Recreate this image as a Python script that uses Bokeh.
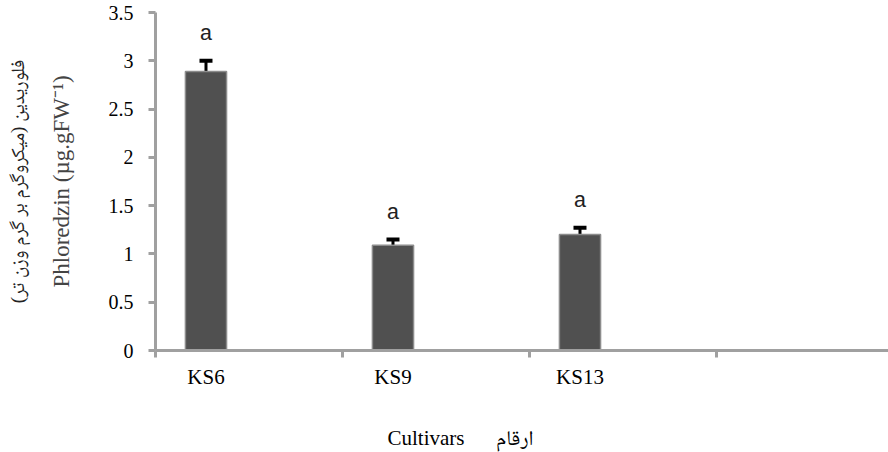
from bokeh.plotting import figure
from bokeh.models import (Range1d, FixedTicker, CustomJSTickFormatter, Whisker, TeeHead,
                          ColumnDataSource, LinearAxis, Title)
from bokeh.core.properties import value
from bokeh.embed import file_html
from bokeh.resources import INLINE

# ---- data ----
cultivars = ["KS6", "KS9", "KS13"]
phlorizin = [2.89, 1.09, 1.20]
errors = [0.11, 0.06, 0.07]
letters = ["a", "a", "a"]
y_ticks = [0, 0.5, 1, 1.5, 2, 2.5, 3, 3.5]
y_title_en = "Phloredzin (µg.gFW⁻¹)"
y_title_fa = "فلوریدین (میکروگرم بر گرم وزن تر)"
x_title = "Cultivars\u2003\u2002ارقام"

SERIF = "'Liberation Serif', 'Times New Roman', 'Noto Naskh Arabic', 'Noto Sans Arabic', serif"
AXIS_GRAY = "#a0a0a0"
OFFSET = 0.27          # bars sit left of the category centre
SLOT_PX = 187.0        # pixel width of one category slot

xs = list(range(len(cultivars)))
lower = [v - e for v, e in zip(phlorizin, errors)]
upper = [v + e for v, e in zip(phlorizin, errors)]
label_y = [u + 0.27 for u in upper]
boundaries = [i - OFFSET for i in range(len(cultivars) + 1)]

W, H, LEFT = 888, 452, 155
src = ColumnDataSource(dict(x=xs, top=phlorizin, lower=lower, upper=upper,
                            ly=label_y, letter=letters))

p = figure(width=W, height=H, output_backend="svg", toolbar_location=None,
           x_range=Range1d(-OFFSET, -OFFSET + (W - LEFT) / SLOT_PX), y_range=Range1d(0, 3.5),
           min_border_left=LEFT, min_border_right=0, min_border_top=12, min_border_bottom=101)
p.outline_line_color = None
p.xgrid.visible = False
p.ygrid.visible = False
p.background_fill_color = "white"

p.vbar(x="x", top="top", bottom=0, width=0.22, source=src,
       fill_color="#505050", line_color="#8c8c8c", line_width=1.5)

w = Whisker(base="x", lower="lower", upper="upper", source=src,
            line_color="black", line_width=3,
            upper_head=TeeHead(size=13, line_width=4, line_color="black"),
            lower_head=TeeHead(size=13, line_width=4, line_color="black"))
p.add_layout(w)

p.text(x="x", y="ly", text="letter", source=src, text_align="center",
       text_baseline="middle", text_font=value("'Liberation Mono', monospace"),
       text_font_size="22px", text_color="#222222")

# x axis: minor ticks mark the category boundaries, labels sit under bars
xa = p.xaxis[0]
xa.ticker = FixedTicker(ticks=xs, minor_ticks=boundaries)
xa.major_label_overrides = {i: c for i, c in enumerate(cultivars)}
xa.major_tick_line_color = None
xa.major_tick_out = 7
xa.major_tick_in = 0
xa.minor_tick_out = 7
xa.minor_tick_in = 0
xa.minor_tick_line_color = AXIS_GRAY
xa.minor_tick_line_width = 3
xa.axis_line_color = AXIS_GRAY
xa.axis_line_width = 3
xa.major_label_standoff = 7
xa.major_label_text_font = SERIF
xa.major_label_text_font_size = "21px"
xa.major_label_text_color = "black"
# blank axis label only reserves vertical room above the x title
xa.axis_label = "\u00a0"
xa.axis_label_text_font_size = "20px"
xa.axis_label_standoff = 4

# y axis
ya = p.yaxis[0]
ya.ticker = FixedTicker(ticks=y_ticks)
ya.formatter = CustomJSTickFormatter(code="return String(Number(tick.toFixed(2)));")
ya.axis_line_color = AXIS_GRAY
ya.axis_line_width = 3
ya.major_tick_line_color = AXIS_GRAY
ya.major_tick_line_width = 3
ya.major_tick_out = 7
ya.major_tick_in = 0
ya.minor_tick_line_color = None
ya.major_label_standoff = 15
ya.major_label_text_font = SERIF
ya.major_label_text_font_size = "20px"
ya.major_label_text_color = "black"
ya.axis_label = y_title_en
ya.axis_label_text_font = SERIF
ya.axis_label_text_font_size = "23px"
ya.axis_label_text_font_style = "normal"
ya.axis_label_standoff = 32

ya2 = LinearAxis(ticker=FixedTicker(ticks=[]), axis_line_color=None,
                 major_tick_line_color=None, minor_tick_line_color=None,
                 major_tick_out=0, major_label_standoff=0,
                 axis_label=y_title_fa, axis_label_text_font=SERIF,
                 axis_label_text_font_size="19px", axis_label_text_font_style="normal",
                 axis_label_text_color="#222222",
                 axis_label_standoff=18)
p.add_layout(ya2, "left")

t = Title(text=x_title, align="left", offset=232, vertical_align="bottom",
          text_font=SERIF, text_font_size="21px", text_font_style="normal",
          text_color="black")
try:
    t.standoff = 6
except Exception:
    pass
p.add_layout(t, "below")

open("out.html", "w").write(file_html(p, INLINE))
